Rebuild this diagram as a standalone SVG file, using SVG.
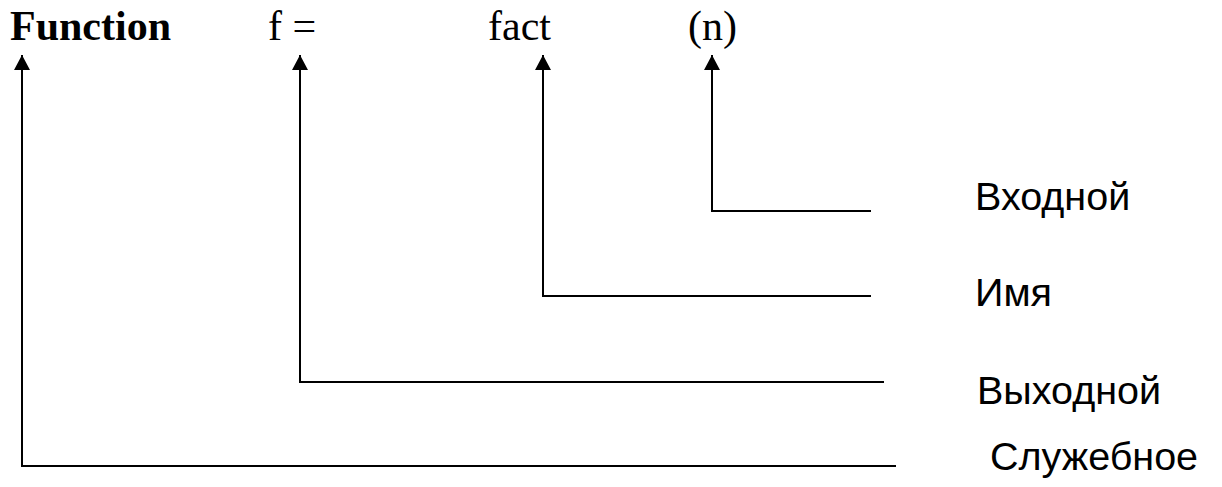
<svg xmlns="http://www.w3.org/2000/svg" width="1222" height="487" viewBox="0 0 1222 487">
<style>
.code{font-family:"Liberation Serif","Times New Roman",serif;font-size:42px;fill:#000}
.b{font-weight:bold}
.lbl{font-family:"Liberation Sans",Arial,sans-serif;font-size:39.5px;fill:#000}
.c{fill:none;stroke:#000;stroke-width:2}
</style>
<defs>
<marker id="ah" viewBox="0 0 15 16" refX="15" refY="8" markerWidth="15" markerHeight="16" markerUnits="userSpaceOnUse" orient="auto-start-reverse">
<path d="M0 0 L15 8 L0 16 Z" fill="#000"/>
</marker>
</defs>
<g id="code">
<text class="code b" x="10" y="40">Function</text>
<text class="code" x="268" y="40">f =</text>
<text class="code" x="488" y="40">fact</text>
<text class="code" x="688" y="40">(n)</text>
</g>
<g id="connectors">
<path class="c" d="M712 55 V211 H871" marker-start="url(#ah)"/>
<path class="c" d="M543 55 V296 H871" marker-start="url(#ah)"/>
<path class="c" d="M300 55 V382 H884" marker-start="url(#ah)"/>
<path class="c" d="M22 55 V466 H896" marker-start="url(#ah)"/>
</g>
<g id="n-vhod"><text class="lbl" x="975" y="210">Входной</text></g>
<g id="n-imya"><text class="lbl" x="975" y="306">Имя</text></g>
<g id="n-vyhod"><text class="lbl" x="977" y="404">Выходной</text></g>
<g id="n-sluzh"><text class="lbl" x="990" y="470">Служебное</text></g>
</svg>
